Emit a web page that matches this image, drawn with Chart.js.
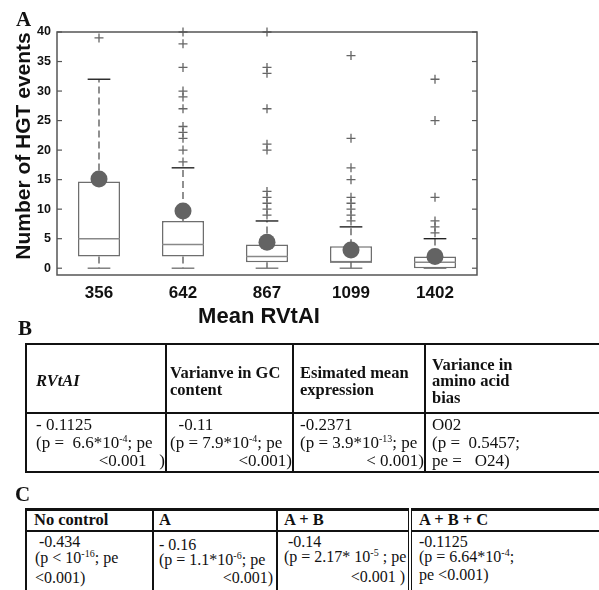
<!DOCTYPE html>
<html><head><meta charset="utf-8">
<script src="https://cdn.jsdelivr.net/npm/chart.js@4"></script>
<style>
html,body{margin:0;padding:0;width:599px;height:590px;overflow:hidden;background:#fff;}
#wrap{position:absolute;left:0;top:0;width:599px;height:335px;}
.lab{position:absolute;font-family:"Liberation Serif","Times New Roman",serif;font-weight:bold;font-size:21px;color:#111;line-height:1;}
table{position:absolute;border-collapse:collapse;table-layout:fixed;font-family:"Liberation Serif","Times New Roman",serif;color:#111;}
td{border:2px solid #111;vertical-align:top;padding:0;overflow:hidden;white-space:nowrap;}
#tb td{font-size:17px;line-height:18px;}
#tb tr.h td{font-weight:bold;vertical-align:middle;font-size:16.5px;line-height:16.5px;padding-top:6px;}
#tc td{font-size:16px;line-height:15px;}
#tc tr.h td{font-weight:bold;font-size:16.5px;line-height:18px;}
sup{font-size:10px;line-height:0;vertical-align:6px;}
.r{text-align:right;}
</style></head><body>
<div id="wrap"><canvas id="c" width="599" height="335"></canvas></div>
<div class="lab" style="left:16px;top:9px;">A</div>
<div class="lab" style="left:18px;top:318px;">B</div>
<div class="lab" style="left:15px;top:484px;">C</div>

<table id="tb" style="left:25px;top:343px;width:640px;">
<colgroup><col style="width:140px"><col style="width:127px"><col style="width:132px"><col style="width:241px"></colgroup>
<tr class="h" style="height:69px">
<td style="padding-left:9px"><i>RVtAI</i></td>
<td style="padding-left:3px">Varianve in GC<br>content</td>
<td style="padding-left:6px">Esimated mean<br>expression</td>
<td style="padding-left:6px">Variance in<br>amino acid<br>bias</td>
</tr>
<tr style="height:59px">
<td style="padding-left:9px;padding-top:2px"><div>- 0.1125</div><div>(p = &nbsp;6.6*10<sup>-4</sup>; pe</div><div class="r">&lt;0.001 &nbsp;&nbsp;)</div></td>
<td style="padding-left:3px;padding-top:2px"><div>&nbsp;&nbsp;-0.11</div><div>(p = 7.9*10<sup>-4</sup>; pe</div><div class="r">&lt;0.001)</div></td>
<td style="padding-left:6px;padding-top:2px"><div>-0.2371</div><div>(p = 3.9*10<sup>-13</sup>; pe</div><div class="r">&lt; 0.001)</div></td>
<td style="padding-left:6px;padding-top:2px"><div>O02</div><div>(p = &nbsp;0.5457;</div><div>pe = &nbsp;&nbsp;O24)</div></td>
</tr>
</table>

<table id="tc" style="left:25px;top:508px;width:640px;">
<colgroup><col style="width:127px"><col style="width:124px"><col style="width:133px"><col style="width:256px"></colgroup>
<tr class="h" style="height:21px">
<td style="padding-left:7px;border-top-width:3px">No control</td>
<td style="padding-left:5px;border-top-width:3px">A</td>
<td style="padding-left:6px;border-top-width:3px">A + B</td>
<td style="padding-left:7px;border-top-width:3px;border-left:4px double #111">A + B + C</td>
</tr>
<tr style="height:70px">
<td style="padding-left:8px;padding-top:2px"><div>&nbsp;-0.434</div><div style="margin-top:1px">(p &lt; 10<sup>-16</sup>; pe</div><div style="margin-top:5px">&lt;0.001)</div></td>
<td style="padding-left:5px;padding-top:5px"><div>- 0.16</div><div>(p = 1.1*10<sup>-6</sup>; pe</div><div class="r" style="margin-top:3px;padding-right:3px">&lt;0.001)</div></td>
<td style="padding-left:6px;padding-top:2px"><div>&nbsp;-0.14</div><div>(p = 2.17* 10<sup>-5</sup> ; pe</div><div class="r" style="margin-top:5px;padding-right:3px">&lt;0.001 )</div></td>
<td style="padding-left:7px;padding-top:2px;border-left:4px double #111"><div>-0.1125</div><div>(p = 6.64*10<sup>-4</sup>;</div><div style="margin-top:3px">pe &lt;0.001)</div></td>
</tr>
</table>

<script>
// ---- data ----
const categories = ['356', '642', '867', '1099', '1402'];
const whiskerLow  = [0, 0, 0, 0, 0];
const q1Values    = [2, 2, 1, 1, 0];
const medianValues= [5, 4, 2, 1, 1];
const q3Values    = [14.7, 8, 4, 3.7, 2];
const whiskerHigh = [32, 17, 8, 7, 5];
const meanValues  = [15.1, 9.7, 4.4, 3.1, 2.0];
const outliers356  = [39];
const outliers642  = [18, 20, 22, 23, 24, 27, 29, 30, 34, 38, 40];
const outliers867  = [9, 10, 11, 12, 13, 20, 21, 27, 33, 34, 40];
const outliers1099 = [8, 9, 10, 11, 12, 15, 17, 22, 36];
const outliers1402 = [6, 7, 8, 12, 25, 32];
const yTicks = [0, 5, 10, 15, 20, 25, 30, 35, 40];
const yTitle = 'Number of HGT events';
const xTitle = 'Mean RVtAI';

const outlierLists = [outliers356, outliers642, outliers867, outliers1099, outliers1402];
const outlierPoints = [];
outlierLists.forEach((list, i) => list.forEach(v => outlierPoints.push({x: categories[i], y: v})));
const meanPoints = meanValues.map((v, i) => ({x: categories[i], y: v}));

const boxPlugin = {
  id: 'boxParts',
  afterDatasetDraw(chart, args) {
    if (args.index !== 0) return;
    const ctx = chart.ctx, xs = chart.scales.x, ys = chart.scales.y;
    const meta = chart.getDatasetMeta(0);
    ctx.save();
    meta.data.forEach((bar, i) => {
      const cx = xs.getPixelForValue(i);
      const w = bar.width;
      const cap = w * 0.27;
      ctx.strokeStyle = '#888'; ctx.lineWidth = 1.5; ctx.setLineDash([]);
      const ym = ys.getPixelForValue(medianValues[i]);
      ctx.beginPath(); ctx.moveTo(cx - w/2, ym); ctx.lineTo(cx + w/2, ym); ctx.stroke();
      ctx.strokeStyle = '#555'; ctx.lineWidth = 1.3; ctx.setLineDash([7, 4]);
      const yq3 = ys.getPixelForValue(q3Values[i]), yhi = ys.getPixelForValue(whiskerHigh[i]);
      const yq1 = ys.getPixelForValue(q1Values[i]), ylo = ys.getPixelForValue(whiskerLow[i]);
      ctx.beginPath(); ctx.moveTo(cx, yq3); ctx.lineTo(cx, yhi); ctx.stroke();
      ctx.beginPath(); ctx.moveTo(cx, yq1); ctx.lineTo(cx, ylo); ctx.stroke();
      ctx.setLineDash([]);
      ctx.strokeStyle = '#222'; ctx.lineWidth = 1.4;
      ctx.beginPath(); ctx.moveTo(cx - cap, yhi); ctx.lineTo(cx + cap, yhi); ctx.stroke();
      ctx.strokeStyle = '#777';
      ctx.beginPath(); ctx.moveTo(cx - cap, ylo); ctx.lineTo(cx + cap, ylo); ctx.stroke();
    });
    ctx.restore();
  },
  afterDraw(chart) {
    const ctx = chart.ctx, a = chart.chartArea, ys = chart.scales.y;
    ctx.save();
    ctx.strokeStyle = '#555'; ctx.lineWidth = 1.5;
    ctx.strokeRect(a.left, a.top, a.right - a.left, a.bottom - a.top);
    ctx.lineWidth = 1.2;
    ys.ticks.forEach(t => {
      const y = ys.getPixelForValue(t.value);
      ctx.beginPath(); ctx.moveTo(a.left, y); ctx.lineTo(a.left + 5, y); ctx.stroke();
      ctx.beginPath(); ctx.moveTo(a.right - 5, y); ctx.lineTo(a.right, y); ctx.stroke();
    });
    ctx.fillStyle = '#111';
    ctx.font = 'bold 21px "Liberation Sans", Arial, sans-serif';
    ctx.textAlign = 'center'; ctx.textBaseline = 'middle';
    ctx.save();
    ctx.translate(24, 146); ctx.rotate(-Math.PI / 2);
    ctx.fillText(yTitle, 0, 0);
    ctx.restore();
    ctx.font = 'bold 22px "Liberation Sans", Arial, sans-serif';
    ctx.textBaseline = 'alphabetic';
    ctx.fillText(xTitle, 259, 323);
    ctx.restore();
  }
};

new Chart(document.getElementById('c'), {
  type: 'bar',
  data: {
    labels: categories,
    datasets: [
      {
        type: 'bar', order: 3,
        data: categories.map((c, i) => [q1Values[i], q3Values[i]]),
        backgroundColor: '#ffffff', borderColor: '#6e6e6e', borderWidth: 1.5,
        borderSkipped: false, barPercentage: 0.5, categoryPercentage: 1.0
      },
      {
        type: 'line', order: 2, data: outlierPoints, showLine: false, clip: false,
        pointStyle: 'cross', pointRadius: 4.5, borderColor: '#666', borderWidth: 1.3,
        backgroundColor: '#666'
      },
      {
        type: 'line', order: 1, data: meanPoints, showLine: false, clip: false,
        pointStyle: 'circle', pointRadius: 8.5, borderColor: '#636363', borderWidth: 0,
        backgroundColor: '#636363'
      }
    ]
  },
  options: {
    responsive: false, animation: false,
    layout: { padding: { top: 32, right: 122, left: 0, bottom: 0 } },
    plugins: { legend: { display: false }, tooltip: { enabled: false } },
    scales: {
      x: {
        offset: true,
        grid: { display: false, drawTicks: false }, border: { display: false },
        ticks: { color: '#111', padding: 8, font: { family: '"Liberation Sans", Arial, sans-serif', weight: 'bold', size: 17 } },
        afterFit: s => { s.height = 60; }
      },
      y: {
        min: -1.15, max: 40,
        afterBuildTicks: s => { s.ticks = yTicks.map(v => ({ value: v })); },
        grid: { display: false, drawTicks: false }, border: { display: false },
        ticks: { color: '#111', padding: 6, font: { family: '"Liberation Sans", Arial, sans-serif', weight: 'bold', size: 12.5 } },
        afterFit: s => { s.width = 57; }
      }
    }
  },
  plugins: [boxPlugin]
});
</script>
</body></html>
